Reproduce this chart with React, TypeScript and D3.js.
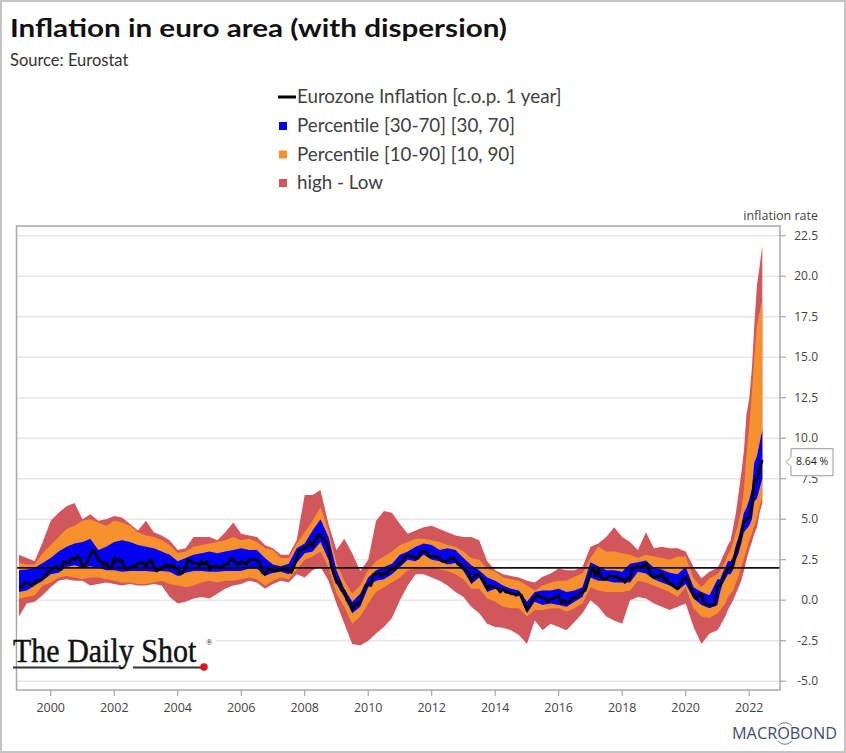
import React from "react";
import * as d3 from "d3";

const titleText = "Inflation in euro area (with dispersion)";
const sourceText = "Source: Eurostat";
const legendLabels = [
  "Eurozone Inflation [c.o.p. 1 year]",
  "Percentile [30-70] [30, 70]",
  "Percentile [10-90] [10, 90]",
  "high - Low",
];
const axisTitle = "inflation rate";
const yTicks = [-5, -2.5, 0, 2.5, 5, 7.5, 10, 12.5, 15, 17.5, 20, 22.5];
const xTickYears = [2000, 2002, 2004, 2006, 2008, 2010, 2012, 2014, 2016, 2018, 2020, 2022];
const targetRate = 2;

// Monthly euro area inflation, Jan 1999 .. Jun 2022
const euroInflation = [
  0.8, 0.8, 1.0, 1.1, 1.0, 0.9, 1.1, 1.2, 1.2, 1.4, 1.5, 1.7,
  1.9, 2.0, 2.1, 1.9, 1.9, 2.4, 2.3, 2.3, 2.6, 2.5, 2.7, 2.6,
  2.1, 2.2, 2.4, 2.8, 3.1, 2.9, 2.5, 2.4, 2.2, 2.3, 2.0, 2.0,
  2.6, 2.4, 2.5, 2.4, 2.0, 1.9, 2.0, 2.1, 2.1, 2.3, 2.3, 2.3,
  2.1, 2.4, 2.5, 2.1, 1.8, 1.9, 2.0, 2.1, 2.2, 2.0, 2.2, 2.0,
  1.9, 1.6, 1.7, 2.0, 2.5, 2.4, 2.3, 2.3, 2.1, 2.4, 2.2, 2.4,
  1.9, 2.1, 2.1, 2.1, 2.0, 2.1, 2.2, 2.2, 2.6, 2.5, 2.3, 2.2,
  2.4, 2.3, 2.2, 2.5, 2.5, 2.5, 2.5, 2.3, 1.7, 1.6, 1.9, 1.9,
  1.8, 1.8, 1.9, 1.9, 1.9, 1.9, 1.8, 1.7, 2.1, 2.6, 3.1, 3.1,
  3.2, 3.3, 3.6, 3.3, 3.7, 4.0, 4.0, 3.8, 3.6, 3.2, 2.1, 1.6,
  1.1, 1.2, 0.6, 0.6, 0.0, -0.1, -0.6, -0.2, -0.3, -0.1, 0.5, 0.9,
  1.0, 0.9, 1.6, 1.6, 1.7, 1.5, 1.7, 1.6, 1.9, 1.9, 1.9, 2.2,
  2.3, 2.4, 2.7, 2.8, 2.7, 2.7, 2.6, 2.6, 3.0, 3.0, 3.0, 2.7,
  2.7, 2.7, 2.7, 2.6, 2.4, 2.4, 2.4, 2.6, 2.6, 2.5, 2.2, 2.2,
  2.0, 1.8, 1.7, 1.2, 1.4, 1.6, 1.6, 1.3, 1.1, 0.7, 0.9, 0.8,
  0.8, 0.7, 0.5, 0.7, 0.5, 0.5, 0.4, 0.4, 0.3, 0.4, 0.3, -0.2,
  -0.6, -0.3, -0.1, 0.2, 0.3, 0.2, 0.2, 0.1, -0.1, 0.1, 0.1, 0.2,
  0.3, -0.2, 0.0, -0.2, -0.1, 0.1, 0.2, 0.2, 0.4, 0.5, 0.6, 1.1,
  1.7, 2.0, 1.5, 1.9, 1.4, 1.3, 1.3, 1.5, 1.5, 1.4, 1.5, 1.3,
  1.3, 1.1, 1.4, 1.3, 2.0, 2.0, 2.1, 2.0, 2.1, 2.3, 1.9, 1.5,
  1.4, 1.5, 1.4, 1.7, 1.2, 1.3, 1.0, 1.0, 0.8, 0.7, 1.0, 1.3,
  1.4, 1.2, 0.7, 0.3, 0.1, 0.3, 0.4, -0.2, -0.3, -0.3, -0.3, -0.3,
  0.9, 0.9, 1.3, 1.6, 2.0, 1.9, 2.2, 3.0, 3.4, 4.1, 4.9, 5.0,
  5.1, 5.9, 7.4, 7.4, 8.1, 8.64,
];

// Dispersion bands: quarterly Jan 1999 .. Oct 2020, then monthly Jan 2021 .. Jun 2022
const bandHigh = [
  2.8, 2.6, 2.4, 3.6, 4.9, 5.4, 5.8, 6.0, 5.0, 5.3, 4.9, 5.0, 5.2, 5.1, 4.7, 4.3,
  4.9, 4.2, 4.0, 3.7, 3.1, 3.2, 3.9, 3.9, 3.9, 3.7, 4.2, 4.8, 4.1, 4.0, 3.9, 3.4,
  3.2, 2.8, 2.8, 3.7, 6.5, 6.5, 6.8, 4.7, 3.1, 3.8, 2.9, 1.8, 2.5, 4.9, 5.5, 5.4,
  4.7, 4.1, 4.3, 4.5, 4.6, 4.4, 4.2, 4.0, 3.9, 3.9, 3.7, 2.4, 1.85, 1.6, 1.5, 1.4,
  1.2, 1.1, 1.45, 1.65, 1.95, 1.85, 1.85, 2.05, 3.3, 3.5, 3.9, 4.5, 3.9, 3.6, 3.1, 4.2,
  3.2, 3.3, 3.2, 3.2, 3.0, 2.05, 1.35, 1.75,
  2.0, 2.3, 2.7, 3.0, 3.4, 3.7, 4.5, 5.4, 6.6, 7.8, 9.2, 11.5,
  12.4, 14.3, 17.0, 19.5, 20.6, 21.9,
];
const bandP90 = [
  2.3, 2.2, 2.2, 2.9, 3.4, 3.9, 4.4, 4.6, 4.9, 5.0, 4.8, 4.6, 4.9, 4.8, 4.6, 4.2,
  4.0, 3.9, 3.7, 3.4, 2.9, 3.0, 3.3, 3.4, 3.5, 3.6, 3.7, 3.9, 3.7, 3.8, 3.6, 3.2,
  3.1, 2.6, 2.6, 3.5, 4.2, 4.9, 5.75, 4.3, 2.3, 1.2, 0.4, 0.9, 1.85, 2.4, 2.7, 3.0,
  3.4, 3.6, 3.8, 3.8, 3.7, 3.6, 3.4, 3.3, 3.0, 2.6, 2.5, 1.95, 1.75, 1.4, 1.3, 1.2,
  0.9, 0.6, 0.9, 1.1, 1.2, 1.2, 1.45, 1.65, 2.6, 3.3, 3.0, 3.0, 2.9, 2.8, 2.6, 2.8,
  2.7, 2.6, 2.5, 2.7, 2.7, 1.35, 0.8, 1.35,
  1.6, 1.8, 2.1, 2.4, 2.8, 3.1, 3.6, 4.2, 4.8, 5.5, 6.8, 9.0,
  10.7, 12.8, 15.0, 17.0, 17.8, 18.6,
];
const bandP70 = [
  1.85, 1.9, 2.0, 2.3, 2.6, 3.0, 3.3, 3.5, 3.6, 3.8, 3.1, 3.3, 3.6, 3.7, 3.6, 3.4,
  3.3, 3.2, 3.0, 2.8, 2.4, 2.6, 2.8, 2.9, 3.0, 2.9, 3.0, 3.1, 3.2, 3.1, 3.1, 2.6,
  2.2, 2.1, 2.25, 3.2, 3.5, 4.3, 5.0, 3.9, 1.85, 0.7, -0.1, 0.4, 1.4, 1.85, 2.05, 2.25,
  2.8, 3.0, 3.3, 3.5, 3.4, 3.1, 3.2, 3.1, 2.6, 2.15, 1.85, 1.4, 1.2, 0.9, 0.7, 0.6,
  -0.1, 0.5, 0.6, 0.6, 0.7, 0.5, 0.6, 0.8, 2.35, 2.1, 1.85, 1.85, 1.75, 2.25, 2.35, 2.45,
  2.0, 1.9, 1.7, 1.6, 2.05, 0.8, 0.5, 0.3,
  1.3, 1.3, 1.7, 2.0, 2.4, 2.4, 2.7, 3.4, 3.9, 4.6, 5.4, 5.7,
  6.2, 6.9, 8.5, 8.9, 9.7, 10.5,
];
const bandP30 = [
  0.5, 0.6, 0.9, 1.2, 1.6, 1.7, 2.05, 2.15, 2.0, 2.1, 2.0, 1.85, 1.85, 1.75, 1.8, 1.8,
  1.8, 1.75, 1.8, 1.75, 1.5, 1.7, 1.8, 1.8, 1.75, 1.75, 1.8, 1.8, 1.8, 1.95, 1.95, 1.5,
  1.7, 1.75, 1.6, 2.3, 2.9, 3.0, 3.6, 2.5, 1.0, 0.2, -0.8, -0.4, 0.8, 1.2, 1.3, 1.6,
  2.05, 2.5, 2.4, 2.8, 2.5, 2.4, 2.2, 2.3, 1.8, 1.0, 1.4, 0.5, 0.7, 0.6, 0.3, 0.3,
  -0.8, -0.1, -0.3, -0.2, -0.3, -0.4, -0.1, 0.2, 1.4, 1.2, 1.2, 1.1, 1.1, 1.1, 1.75, 1.65,
  1.3, 1.1, 0.9, 0.6, 1.0, 0.1, -0.3, -0.5,
  -0.3, 0.5, 1.0, 1.3, 1.6, 1.6, 1.9, 2.5, 2.9, 3.5, 4.2, 4.4,
  4.6, 5.0, 6.1, 6.3, 6.9, 7.5,
];
const bandP10 = [
  0.1, 0.2, 0.3, 0.9, 1.1, 1.4, 1.5, 1.4, 1.3, 1.4, 1.4, 1.3, 1.2, 1.1, 1.1, 1.0,
  1.0, 1.1, 1.2, 1.0, 0.9, 0.8, 0.9, 1.1, 1.2, 1.1, 1.2, 1.2, 1.3, 1.4, 1.3, 0.9,
  1.2, 1.4, 1.3, 1.9, 2.5, 2.7, 3.0, 2.05, 0.4, -0.4, -1.45, -1.0, -0.2, 0.5, 0.8, 1.1,
  1.4, 1.85, 2.0, 2.05, 2.0, 1.9, 1.8, 1.6, 1.3, 0.7, 0.7, 0.1, -0.1, -0.4, -0.5, -0.5,
  -1.0, -0.6, -0.6, -0.5, -0.5, -0.7, -0.5, -0.2, 0.8, 0.6, 0.5, 0.5, 0.5, 0.6, 1.2, 1.1,
  0.9, 0.7, 0.5, 0.2, 0.8, -0.5, -1.0, -1.1,
  -0.8, -0.6, -0.4, -0.2, 0.2, 0.4, 0.6, 1.1, 1.5, 2.05, 2.6, 3.1,
  3.7, 4.1, 4.6, 5.1, 5.8, 6.4,
];
const bandLow = [
  -1.0, -0.2, -0.1, 0.3, 0.8, 1.2, 1.3, 1.2, 1.2, 0.9, 1.0, 1.1, 1.0, 0.9, 1.0, 0.9,
  0.9, 1.0, 0.9, 0.2, -0.2, -0.1, 0.1, 0.2, 0.1, 0.4, 0.7, 0.9, 1.0, 1.2, 1.1, 0.7,
  1.0, 1.2, 1.1, 1.6, 1.4, 1.85, 2.05, 1.2, -0.2, -1.45, -2.7, -2.8, -2.5, -2.05, -1.65, -1.1,
  0.0, 0.9, 1.6, 1.6, 1.4, 1.2, 0.9, 0.5, 0.2, -0.4, -0.8, -1.45, -1.65, -1.7, -1.85, -2.15,
  -2.7, -1.25, -1.85, -1.45, -1.65, -1.85, -1.35, -0.8, 0.0, -0.4, -1.0, -1.25, -1.45, 0.0, 0.2, 0.1,
  -0.2, -0.4, -0.6, -0.4, -0.2, -1.65, -2.7, -2.05,
  -1.85, -1.6, -1.3, -1.0, -0.6, -0.3, 0.0, 0.4, 0.8, 1.2, 1.8, 2.5,
  3.1, 3.6, 4.1, 4.5, 5.4, 6.0,
];

const lineDates = d3.timeMonth.range(new Date(1999, 0, 1), new Date(2022, 6, 1));
const bandDates = d3.timeMonth
  .every(3)!
  .range(new Date(1999, 0, 1), new Date(2021, 0, 1))
  .concat(d3.timeMonth.range(new Date(2021, 0, 1), new Date(2022, 6, 1)));

const COLORS = {
  red: "#d1575c",
  orange: "#f7912e",
  blue: "#0000f2",
  line: "#000000",
  grid: "#e6e6e6",
  frame: "#a8a8a8",
  text: "#404040",
};

export default function App() {
  const W = 846;
  const H = 753;
  const plot = { left: 16.5, right: 780, top: 226, bottom: 690 };

  const x = d3
    .scaleTime()
    .domain([new Date(2000, 0, 1), new Date(2022, 0, 1)])
    .range([50.7, 749.2]);
  const y = d3.scaleLinear().domain([-5, 22.5]).range([681.2, 235.7]);

  const band = (lo: number[], hi: number[]) =>
    d3
      .area<number>()
      .x((_, i) => x(bandDates[i]))
      .y0((_, i) => y(lo[i]))
      .y1((_, i) => y(hi[i]))(lo) || "";

  const linePath =
    d3
      .line<number>()
      .x((_, i) => x(lineDates[i]))
      .y((d) => y(d))(euroInflation) || "";

  const lastVal = euroInflation[euroInflation.length - 1];
  const ly = y(lastVal) + 1.5;

  const axisFont = "'Open Sans', 'DejaVu Sans', sans-serif";
  const titleFont = "Lato, 'Open Sans', sans-serif";

  const legendY = [97, 126, 154.5, 183];
  const legendColors = [COLORS.line, COLORS.blue, COLORS.orange, COLORS.red];

  return (
    <svg
      width={W}
      height={H}
      style={{ position: "absolute", left: 0, top: 0, background: "#fff" }}
    >
      <rect x={0} y={0} width={W} height={H} fill="#fff" />
      <rect x={1} y={1} width={W - 2} height={H - 2} fill="none" stroke="#c4c4c4" strokeWidth={2} />

      {/* Title */}
      <text
        x={10}
        y={37}
        fontFamily={titleFont}
        fontWeight={700}
        fontSize={25}
        fill="#111"
        textLength={497}
        lengthAdjust="spacingAndGlyphs"
      >
        {titleText}
      </text>
      <text x={10} y={66} fontFamily={titleFont} fontSize={16.5} fill="#333">
        {sourceText}
      </text>

      {/* Legend */}
      {legendLabels.map((lab, i) => (
        <g key={lab}>
          {i === 0 ? (
            <line x1={278} x2={296} y1={legendY[i]} y2={legendY[i]} stroke={COLORS.line} strokeWidth={3} />
          ) : (
            <rect x={279} y={legendY[i] - 4} width={8} height={8} fill={legendColors[i]} />
          )}
          <text x={297} y={legendY[i] + 6} fontFamily={titleFont} fontSize={18.8} fill={COLORS.text}>
            {lab}
          </text>
        </g>
      ))}

      {/* Grid */}
      {yTicks.map((t) => (
        <line
          key={"g" + t}
          x1={plot.left}
          x2={plot.right}
          y1={y(t)}
          y2={y(t)}
          stroke={COLORS.grid}
          strokeWidth={1.5}
        />
      ))}

      {/* Bands */}
      <path d={band(bandLow, bandHigh)} fill={COLORS.red} />
      <path d={band(bandP10, bandP90)} fill={COLORS.orange} />
      <path d={band(bandP30, bandP70)} fill={COLORS.blue} />

      {/* Target line */}
      <line
        x1={plot.left}
        x2={plot.right}
        y1={y(targetRate)}
        y2={y(targetRate)}
        stroke="#111"
        strokeWidth={1.8}
      />

      {/* Inflation line */}
      <path d={linePath} fill="none" stroke={COLORS.line} strokeWidth={2.6} strokeLinejoin="round" />

      {/* Frame */}
      <rect
        x={plot.left}
        y={plot.top}
        width={plot.right - plot.left}
        height={plot.bottom - plot.top}
        fill="none"
        stroke={COLORS.frame}
        strokeWidth={1.5}
      />

      {/* Right axis */}
      {yTicks.map((t) => (
        <g key={"yt" + t}>
          <line x1={plot.right} x2={plot.right + 6} y1={y(t)} y2={y(t)} stroke={COLORS.frame} strokeWidth={1.2} />
          <text
            x={818}
            y={y(t)}
            dy="0.35em"
            textAnchor="end"
            fontFamily={axisFont}
            fontSize={12}
            fill="#444"
          >
            {t.toFixed(1)}
          </text>
        </g>
      ))}
      <text x={818} y={220} textAnchor="end" fontFamily={axisFont} fontSize={12.5} fill="#444">
        {axisTitle}
      </text>

      {/* Bottom axis */}
      {xTickYears.map((yr) => {
        const px = x(new Date(yr, 0, 1));
        return (
          <g key={"xt" + yr}>
            <line x1={px} x2={px} y1={plot.bottom} y2={plot.bottom + 6} stroke={COLORS.frame} strokeWidth={1.2} />
            <text x={px} y={711.5} textAnchor="middle" fontFamily={axisFont} fontSize={12.5} fill="#444">
              {yr}
            </text>
          </g>
        );
      })}

      {/* Last value callout */}
      <path
        d={`M786,${ly} L791,${ly - 5} L791,${ly - 13} L833,${ly - 13} L833,${ly + 14} L791,${ly + 14} L791,${ly + 5} Z`}
        fill="#fff"
        stroke="#9a9a9a"
        strokeWidth={1}
      />
      <text x={812} y={ly} dy="0.35em" textAnchor="middle" fontFamily={axisFont} fontSize={10.5} fill="#222">
        {lastVal.toFixed(2)} %
      </text>

      {/* The Daily Shot logo */}
      <rect x={17.5} y={630} width={198} height={43} fill="#fff" />
      <g transform="translate(13,662) scale(1,1.12)">
        <text
          x={0}
          y={0}
          fontFamily="'Liberation Serif', 'DejaVu Serif', serif"
          fontSize={30}
          fill="#111"
          stroke="#111"
          strokeWidth={0.4}
        >
          The Daily Shot
        </text>
      </g>
      <text x={206} y={645} fontFamily="'Liberation Serif', serif" fontSize={8.5} fill="#111">
        ®
      </text>
      <line x1={13} x2={120} y1={667.5} y2={667.5} stroke="#333" strokeWidth={2.2} />
      <line x1={133} x2={202} y1={667.5} y2={667.5} stroke="#333" strokeWidth={2.2} />
      <circle cx={204} cy={667} r={3.8} fill="#e0161b" />

      {/* Macrobond */}
      <text
        x={732}
        y={739}
        fontFamily={axisFont}
        fontSize={15.5}
        fill="#3e4c74"
        textLength={105}
        lengthAdjust="spacingAndGlyphs"
      >
        MACROBOND
      </text>
      <path d="M778,726 A9,9 0 0 1 792,726" fill="none" stroke="#6d7ea6" strokeWidth={1} />
      <path d="M778,741 A9,9 0 0 0 792,741" fill="none" stroke="#6d7ea6" strokeWidth={1} />
    </svg>
  );
}
